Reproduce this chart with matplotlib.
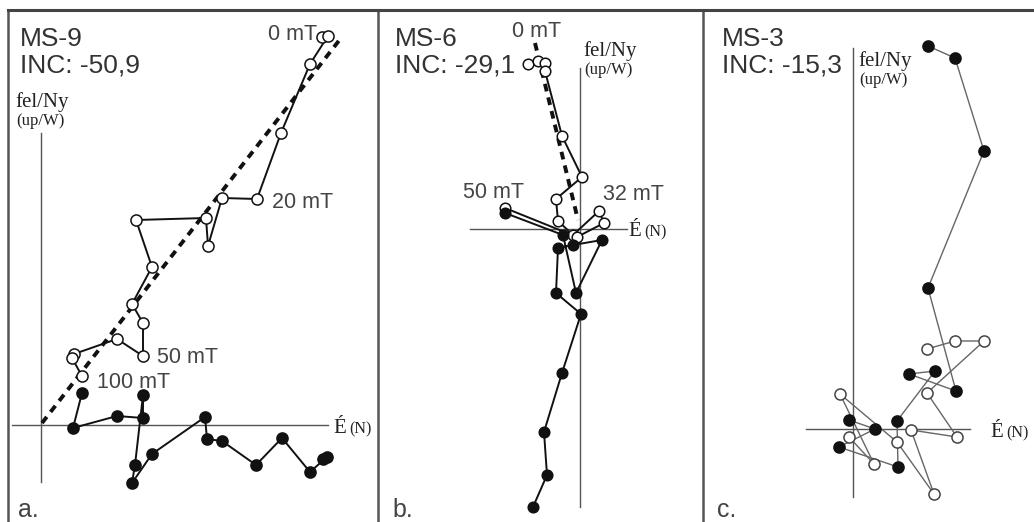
import matplotlib
matplotlib.use("Agg")
import matplotlib.pyplot as plt

# Zijderveld projections, arbitrary units (origin at axis cross)
# MS-9
a_up_x = [281, 287, 269, 240, 216, 181, 167, 165, 95, 111, 91, 102, 102, 76, 33, 31, 41]
a_up_y = [388, 389, 361, 292, 226, 227, 179, 207, 205, 158, 121, 102, 69, 86, 71, 67, 49]
a_hz_x = [282, 286, 269, 241, 215, 181, 166, 164, 111, 91, 94, 102, 102, 76, 32, 41]
a_hz_y = [-34, -32, -47, -13, -40, -16, -14, 8, -29, -58, -40, 30, 7, 9, -3, 32]
a_fit_x = [1, 300]
a_fit_y = [2, 387]

# MS-6
b_up_x = [-52, -42, -35, -35, -18, 2, -24, -22, -7, 19, 24, -3, -75]
b_up_y = [165, 168, 166, 158, 93, 52, 30, 8, -6, 18, 6, -8, 21]
b_hz_x = [-47, -33, -36, -18, 1, -24, -22, -7, 22, -4, -17, -75]
b_hz_y = [-278, -246, -203, -144, -85, -64, -19, -16, -11, -64, -6, 16]
b_fit_x = [-45, -2]
b_fit_y = [186, 9]

# MS-3
c_up_x = [74, 102, 131, 74, 104, 58, 81, 44, -13, 21, -4]
c_up_y = [80, 88, 88, 36, -8, -1, -65, -13, 35, -35, -8]
c_hz_x = [75, 102, 131, 75, 103, 56, 82, 44, 45, -14, 22, -4]
c_hz_y = [383, 371, 278, 141, 38, 55, 58, 8, -38, -18, 0, 9]

W, H = 1034, 522
fig = plt.figure(figsize=(W / 100, H / 100), dpi=100)

SANS = "Liberation Sans"
SERIF = "Liberation Serif"


def fx(px):
    return px / W


def fy(py):
    return 1 - py / H


def panel(left, right, ox, oy):
    ax = fig.add_axes([fx(left), 0, (right - left) / W, (H - 10) / H])
    ax.set_xlim(left - ox, right - ox)
    ax.set_ylim(oy - H, oy - 10)
    ax.set_xticks([])
    ax.set_yticks([])
    for s in ("right", "bottom"):
        ax.spines[s].set_visible(False)
    ax.spines["top"].set_color("#444")
    ax.spines["top"].set_linewidth(2.2)
    ax.spines["left"].set_color("#555")
    ax.spines["left"].set_linewidth(1.8)
    ax.patch.set_alpha(0)
    return ax


def series(ax, x, y, filled, lc, ec, lw, ms):
    ax.plot(x, y, "-", color=lc, lw=lw, zorder=3)
    ax.plot(x, y, "o", ms=ms, mfc=("#111" if filled else "white"), mec=ec,
            mew=1.1, zorder=5)


axcol = "#555"

# panel a
ax = panel(8, 378, 41, 425)
ax.plot([0, 0], [-57, 292], color=axcol, lw=1.0, zorder=1)
ax.plot([-29, 287], [0, 0], color=axcol, lw=1.0, zorder=1)
series(ax, a_up_x, a_up_y, False, "#111", "#111", 1.4, 8)
series(ax, a_hz_x, a_hz_y, True, "#111", "#111", 1.4, 8)
ax.plot(a_fit_x, a_fit_y, color="#111", lw=2.8, dashes=(2, 1.6), zorder=4)

# panel b
ax = panel(378, 703, 580, 229)
ax.plot([0, 0], [-278, 161], color=axcol, lw=1.0, zorder=1)
ax.plot([-110, 47], [0, 0], color=axcol, lw=1.0, zorder=1)
series(ax, b_up_x, b_up_y, False, "#111", "#111", 1.4, 7.6)
series(ax, b_hz_x, b_hz_y, True, "#111", "#111", 1.4, 7.6)
ax.plot(b_fit_x, b_fit_y, color="#111", lw=2.8, dashes=(2, 1.6), zorder=4)

# panel c
ax = panel(703, 1034, 853, 429)
ax.plot([0, 0], [-68, 381], color=axcol, lw=1.0, zorder=1)
ax.plot([-47, 117], [0, 0], color=axcol, lw=1.0, zorder=1)
series(ax, c_up_x, c_up_y, False, "#666", "#444", 1.0, 8)
series(ax, c_hz_x, c_hz_y, True, "#666", "#111", 1.0, 8)

tcol = "#333"


def txt(px, py, s, size, family=SANS, color=tcol):
    fig.text(fx(px), fy(py), s, fontsize=size, family=family, color=color,
             ha="left", va="baseline")


# titles
for x0, name, inc in [(20, "MS-9", "INC: -50,9"), (395, "MS-6", "INC: -29,1"),
                      (722, "MS-3", "INC: -15,3")]:
    txt(x0, 46, name, 19)
    txt(x0, 73, inc, 19)

# axis labels
for x0, y0 in [(15, 107), (583, 56), (858, 66)]:
    txt(x0, y0, "fel/Ny", 15, SERIF, "#222")
    txt(x0 + 1, y0 + 18, "(up/W)", 12, SERIF, "#222")
for x0, y0 in [(333, 433), (628, 236), (990, 437)]:
    txt(x0, y0, "É", 15, SERIF, "#222")
    txt(x0 + 16, y0, "(N)", 11.5, SERIF, "#222")

# step labels
txt(268, 40, "0 mT", 15.5, color="#444")
txt(272, 208, "20 mT", 15.5, color="#444")
txt(157, 363, "50 mT", 15.5, color="#444")
txt(97, 388, "100 mT", 15.5, color="#444")
txt(512, 37, "0 mT", 15.5, color="#444")
txt(463, 198, "50 mT", 15.5, color="#444")
txt(603, 200, "32 mT", 15.5, color="#444")

# panel letters
for x0, s in [(18, "a."), (392, "b."), (717, "c.")]:
    txt(x0, 517, s, 18, color="#444")

fig.savefig("out.png", dpi=100)
